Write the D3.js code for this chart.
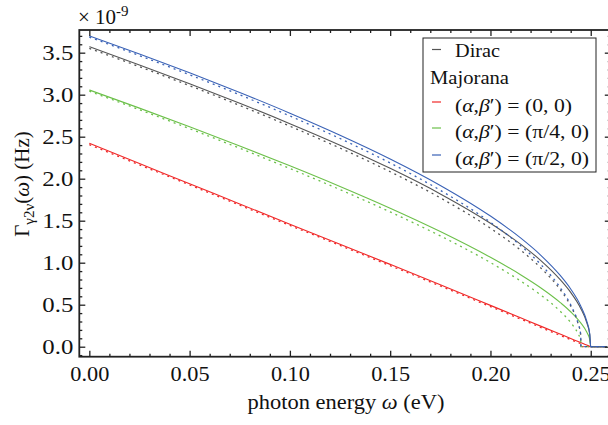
<!DOCTYPE html>
<html>
<head>
<meta charset="utf-8">
<script src="https://cdn.jsdelivr.net/npm/d3@7"></script>
<style>
  html, body { margin: 0; padding: 0; background: #fff; }
  svg { display: block; }
  text { font-family: "Liberation Serif", "DejaVu Serif", serif; fill: #111; }
</style>
</head>
<body>
<div id="chart"></div>
<script>
// ---- data ----
const omegaSolid = [0, 0.025, 0.05, 0.075, 0.10, 0.125, 0.15, 0.175, 0.20, 0.215, 0.225, 0.235, 0.24, 0.245, 0.248, 0.2495, 0.25, 0.258];
const omegaDashed = [0, 0.025, 0.05, 0.075, 0.10, 0.125, 0.15, 0.175, 0.20, 0.215, 0.225, 0.235, 0.24, 0.2435, 0.245, 0.2451, 0.258];

const diracSolid   = [3.571, 3.354, 3.130, 2.898, 2.655, 2.399, 2.123, 1.819, 1.469, 1.221, 1.028, 0.792, 0.646, 0.456, 0.288, 0.144, 0, 0];
const diracDashed  = [3.551, 3.333, 3.107, 2.872, 2.625, 2.364, 2.083, 1.772, 1.410, 1.150, 0.940, 0.672, 0.486, 0.290, 0.140, 0, 0];

const maj00Solid   = [2.421, 2.180, 1.940, 1.699, 1.459, 1.220, 0.980, 0.738, 0.492, 0.344, 0.245, 0.147, 0.098, 0.049, 0.019, 0.005, 0, 0];
const maj00Dashed  = [2.406, 2.165, 1.925, 1.684, 1.444, 1.205, 0.965, 0.723, 0.477, 0.329, 0.230, 0.132, 0.083, 0.049, 0.034, 0, 0];

const majPi4Solid  = [3.056, 2.840, 2.618, 2.390, 2.154, 1.908, 1.649, 1.371, 1.064, 0.857, 0.702, 0.522, 0.416, 0.284, 0.174, 0.084, 0, 0];
const majPi4Dashed = [3.041, 2.821, 2.595, 2.362, 2.121, 1.870, 1.604, 1.319, 1.001, 0.783, 0.617, 0.417, 0.287, 0.161, 0.071, 0, 0];

const majPi2Solid  = [3.700, 3.484, 3.260, 3.026, 2.780, 2.518, 2.235, 1.920, 1.555, 1.295, 1.091, 0.842, 0.687, 0.485, 0.306, 0.153, 0, 0];
const majPi2Dashed = [3.685, 3.465, 3.237, 2.998, 2.747, 2.478, 2.187, 1.862, 1.481, 1.204, 0.981, 0.696, 0.499, 0.294, 0.141, 0, 0];

const xMajorTicks = [0, 0.05, 0.10, 0.15, 0.20, 0.25];
const xTickLabels = ["0.00", "0.05", "0.10", "0.15", "0.20", "0.25"];
const yMajorTicks = [0, 0.5, 1.0, 1.5, 2.0, 2.5, 3.0, 3.5];
const yTickLabels = ["0.0", "0.5", "1.0", "1.5", "2.0", "2.5", "3.0", "3.5"];

const seriesNames = ["Dirac", "(0, 0)", "(π/4, 0)", "(π/2, 0)"];
const seriesColors = ["#555555", "#f02828", "#6cc04a", "#3a62b6"];

// ---- layout ----
const W = 608, H = 425;
const L = 79.3, R = 610.8, T = 30, B = 356.7;

const svg = d3.select("#chart").append("svg").attr("width", W).attr("height", H);

const x = d3.scaleLinear().domain([-0.005, 0.26]).range([L, R]);
const y = d3.scaleLinear().domain([-0.119, 3.77]).range([B, T]);

svg.append("defs").append("clipPath").attr("id", "clip")
  .append("rect").attr("x", L).attr("y", T).attr("width", R - L).attr("height", B - T);

// ---- curves ----
const line = d3.line().x(d => x(d[0])).y(d => y(d[1])).curve(d3.curveMonotoneX);
const plot = svg.append("g").attr("clip-path", "url(#clip)");

const curves = [
  { om: omegaDashed, v: maj00Dashed,  c: seriesColors[1], dash: true },
  { om: omegaSolid,  v: maj00Solid,   c: seriesColors[1], dash: false },
  { om: omegaDashed, v: majPi4Dashed, c: seriesColors[2], dash: true },
  { om: omegaSolid,  v: majPi4Solid,  c: seriesColors[2], dash: false },
  { om: omegaDashed, v: diracDashed,  c: seriesColors[0], dash: true },
  { om: omegaSolid,  v: diracSolid,   c: seriesColors[0], dash: false },
  { om: omegaDashed, v: majPi2Dashed, c: seriesColors[3], dash: true },
  { om: omegaSolid,  v: majPi2Solid,  c: seriesColors[3], dash: false }
];
curves.forEach(s => {
  plot.append("path")
    .datum(s.om.map((o, i) => [o, s.v[i]]))
    .attr("d", line)
    .attr("fill", "none")
    .attr("stroke", s.c)
    .attr("stroke-width", s.dash ? 1.3 : 1.1)
    .attr("stroke-dasharray", s.dash ? "2,4" : null);
});

// ---- frame and ticks ----
const xMinor = d3.range(0, 0.2601, 0.01).map(v => +v.toFixed(3)).filter(v => !xMajorTicks.some(m => Math.abs(m - v) < 1e-9) && v < 0.2595);
const yMinor = d3.range(-0.1, 3.7501, 0.1).map(v => +v.toFixed(2)).filter(v => !yMajorTicks.some(m => Math.abs(m - v) < 1e-9));

function styleAxis(g) {
  g.select(".domain").remove();
  g.selectAll("line").attr("stroke", "#222").attr("stroke-width", 1.3);
}
function styleLabels(g, len) {
  g.selectAll("text")
    .attr("font-size", 21).attr("font-family", "Liberation Serif").attr("fill", "#111")
    .attr("textLength", len).attr("lengthAdjust", "spacingAndGlyphs");
}

// bottom
svg.append("g").attr("transform", `translate(0,${B})`)
  .call(d3.axisBottom(x).tickValues(xMajorTicks).tickSize(-6).tickFormat((d, i) => xTickLabels[i]).tickPadding(9))
  .call(styleAxis)
  .call(g => styleLabels(g, 39));
svg.append("g").attr("transform", `translate(0,${B})`)
  .call(d3.axisBottom(x).tickValues(xMinor).tickSize(-3).tickFormat(""))
  .call(styleAxis);
// top
svg.append("g").attr("transform", `translate(0,${T})`)
  .call(d3.axisTop(x).tickValues(xMajorTicks).tickSize(-6).tickFormat(""))
  .call(styleAxis);
svg.append("g").attr("transform", `translate(0,${T})`)
  .call(d3.axisTop(x).tickValues(xMinor).tickSize(-3).tickFormat(""))
  .call(styleAxis);
// left
svg.append("g").attr("transform", `translate(${L},0)`)
  .call(d3.axisLeft(y).tickValues(yMajorTicks).tickSize(-6).tickFormat((d, i) => yTickLabels[i]).tickPadding(6))
  .call(styleAxis)
  .call(g => styleLabels(g, 31));
svg.append("g").attr("transform", `translate(${L},0)`)
  .call(d3.axisLeft(y).tickValues(yMinor).tickSize(-3).tickFormat(""))
  .call(styleAxis);
// right
svg.append("g").attr("transform", `translate(${R},0)`)
  .call(d3.axisRight(y).tickValues(yMajorTicks).tickSize(-6).tickFormat(""))
  .call(styleAxis);
svg.append("g").attr("transform", `translate(${R},0)`)
  .call(d3.axisRight(y).tickValues(yMinor).tickSize(-3).tickFormat(""))
  .call(styleAxis);

svg.append("rect").attr("x", L).attr("y", T).attr("width", R - L).attr("height", B - T)
  .attr("fill", "none").attr("stroke", "#222").attr("stroke-width", 1.8);

// ---- multiplier ----
const mult = svg.append("text").attr("x", 78).attr("y", 24).attr("font-size", 21);
mult.append("tspan").text("× 10");
mult.append("tspan").attr("dy", -8).attr("font-size", 15).text("-9");

// ---- axis titles ----
const xt = svg.append("text").attr("x", 346).attr("y", 409).attr("text-anchor", "middle").attr("font-size", 21)
  .attr("textLength", 197).attr("lengthAdjust", "spacingAndGlyphs");
xt.append("tspan").text("photon energy ");
xt.append("tspan").attr("font-style", "italic").text("ω");
xt.append("tspan").text(" (eV)");

const yt = svg.append("text").attr("transform", "translate(29,184) rotate(-90)").attr("text-anchor", "middle").attr("font-size", 21);
yt.append("tspan").text("Γ");
yt.append("tspan").attr("dy", 5).attr("font-size", 15).text("γ2ν");
yt.append("tspan").attr("dy", -5).text("(");
yt.append("tspan").attr("font-style", "italic").text("ω");
yt.append("tspan").text(") (Hz)");

// ---- legend ----
const lg = svg.append("g");
lg.append("rect").attr("x", 423).attr("y", 38).attr("width", 173).attr("height", 134)
  .attr("fill", "#fff").attr("stroke", "#222").attr("stroke-width", 1);

function legendMark(yy, color) {
  lg.append("line").attr("x1", 432).attr("x2", 441).attr("y1", yy).attr("y2", yy)
    .attr("stroke", color).attr("stroke-width", 1.2);
}
legendMark(49.5, seriesColors[0]);
lg.append("text").attr("x", 455).attr("y", 57).attr("font-size", 19)
  .attr("textLength", 45).attr("lengthAdjust", "spacingAndGlyphs").text(seriesNames[0]);
lg.append("text").attr("x", 430).attr("y", 84).attr("font-size", 19)
  .attr("textLength", 79).attr("lengthAdjust", "spacingAndGlyphs").text("Majorana");

const legendRows = [
  { c: seriesColors[1], yy: 102, val: seriesNames[1], len: 117 },
  { c: seriesColors[2], yy: 128, val: seriesNames[2], len: 134 },
  { c: seriesColors[3], yy: 155, val: seriesNames[3], len: 134 }
];
legendRows.forEach(r => {
  legendMark(r.yy, r.c);
  const t = lg.append("text").attr("x", 455).attr("y", r.yy + 10).attr("font-size", 19)
    .attr("textLength", r.len).attr("lengthAdjust", "spacingAndGlyphs");
  t.append("tspan").text("(");
  t.append("tspan").attr("font-style", "italic").text("α");
  t.append("tspan").text(",");
  t.append("tspan").attr("font-style", "italic").text("β");
  t.append("tspan").text("′) = " + r.val);
});
</script>
</body>
</html>
